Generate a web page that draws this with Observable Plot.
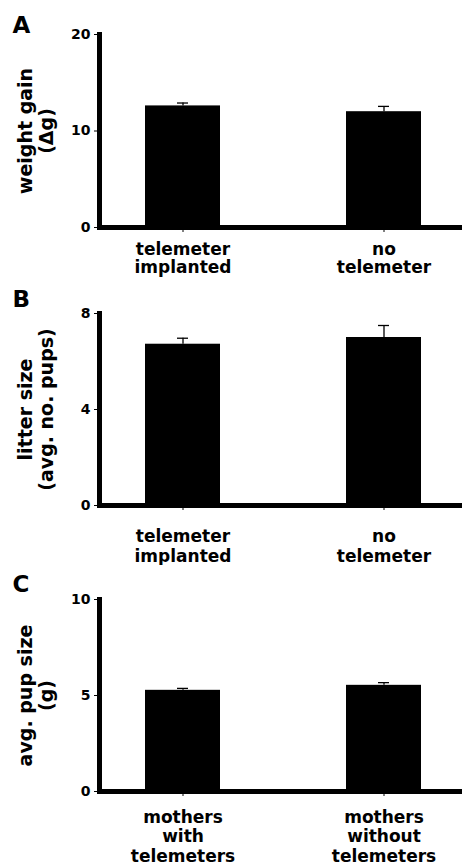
<!DOCTYPE html>
<html><head><meta charset="utf-8">
<script src="https://cdn.jsdelivr.net/npm/d3@7"></script>
<script src="https://cdn.jsdelivr.net/npm/@observablehq/plot@0.6"></script>
<style>
html,body{margin:0;padding:0;background:#fff;}
#chart svg{display:block;}
</style>
</head><body><div id="chart"></div>
<script>
// ---- data ----
const panelLetters = ["A", "B", "C"];
const yLabels = ["weight gain\n(Δg)", "litter size\n(avg. no. pups)", "avg. pup size\n(g)"];
const categoriesAB = ["telemeter\nimplanted", "no\ntelemeter"];
const categoriesC = ["mothers\nwith\ntelemeters", "mothers\nwithout\ntelemeters"];
const weightGainMean = [12.6, 12.0];
const weightGainSE = [0.3, 0.55];
const litterSizeMean = [6.72, 7.0];
const litterSizeSE = [0.25, 0.5];
const pupSizeMean = [5.27, 5.53];
const pupSizeSE = [0.1, 0.14];
const yTicksA = [0, 10, 20];
const yTicksB = [0, 4, 8];
const yTicksC = [0, 5, 10];

function panel(o) {
  const data = o.cats.map((c, i) => ({cat: c, mean: o.mean[i], hi: o.mean[i] + o.se[i]}));
  return Plot.plot({
    width: 462, height: o.height,
    marginLeft: 99, marginRight: 0, marginTop: o.marginTop, marginBottom: o.marginBottom,
    style: {fontFamily: "'DejaVu Sans', sans-serif", fontWeight: "bold", color: "#000", background: "#fff"},
    x: {domain: o.cats, paddingInner: 0.627, paddingOuter: 0.2164, align: 0.53},
    y: {domain: [0, o.yMax]},
    marks: [
      Plot.barY(data, {x: "cat", y: "mean", fill: "#000"}),
      Plot.ruleX(data, {x: "cat", y1: "mean", y2: "hi", stroke: "#000", strokeWidth: 1.3}),
      Plot.tickY(data, {x: "cat", y: "hi", insetLeft: 32, insetRight: 32, stroke: "#000", strokeWidth: 1.3}),
      Plot.ruleY([0], {stroke: "#000", strokeWidth: 5}),
      Plot.frame({anchor: "left", stroke: "#000", strokeWidth: 5}),
      Plot.axisY({ticks: o.ticks, tickSize: 5, tickPadding: 4, fontSize: 14, label: null, tickFormat: d => String(d)}),
      Plot.axisX({tickSize: 5, tickPadding: o.xPad, fontSize: 17, lineHeight: o.xLine, label: null}),
      Plot.text([o.label], {frameAnchor: "left", text: d => d, rotate: -90, dx: -63.5, fontSize: 19, lineHeight: 1.1, lineAnchor: "middle", textAnchor: "middle", fill: "#000"}),
      Plot.text([o.letter], {frameAnchor: "top-left", text: d => d, dx: -87, dy: o.letterDy, fontSize: 23, lineAnchor: "middle", textAnchor: "start", fill: "#000"})
    ]
  });
}

const chart = document.getElementById("chart");
chart.append(panel({letter: panelLetters[0], label: yLabels[0], cats: categoriesAB, mean: weightGainMean, se: weightGainSE,
  yMax: 20, ticks: yTicksA, height: 285, marginTop: 34, marginBottom: 58, xPad: 9, xLine: 1.08, letterDy: -8.4}));
chart.append(panel({letter: panelLetters[1], label: yLabels[1], cats: categoriesAB, mean: litterSizeMean, se: litterSizeSE,
  yMax: 8, ticks: yTicksB, height: 280, marginTop: 28, marginBottom: 60, xPad: 17, xLine: 1.2, letterDy: -13.4}));
chart.append(panel({letter: panelLetters[2], label: yLabels[2], cats: categoriesC, mean: pupSizeMean, se: pupSizeSE,
  yMax: 10, ticks: yTicksC, height: 300, marginTop: 34, marginBottom: 74, xPad: 12, xLine: 1.16, letterDy: -14.4}));
</script>
</body></html>
